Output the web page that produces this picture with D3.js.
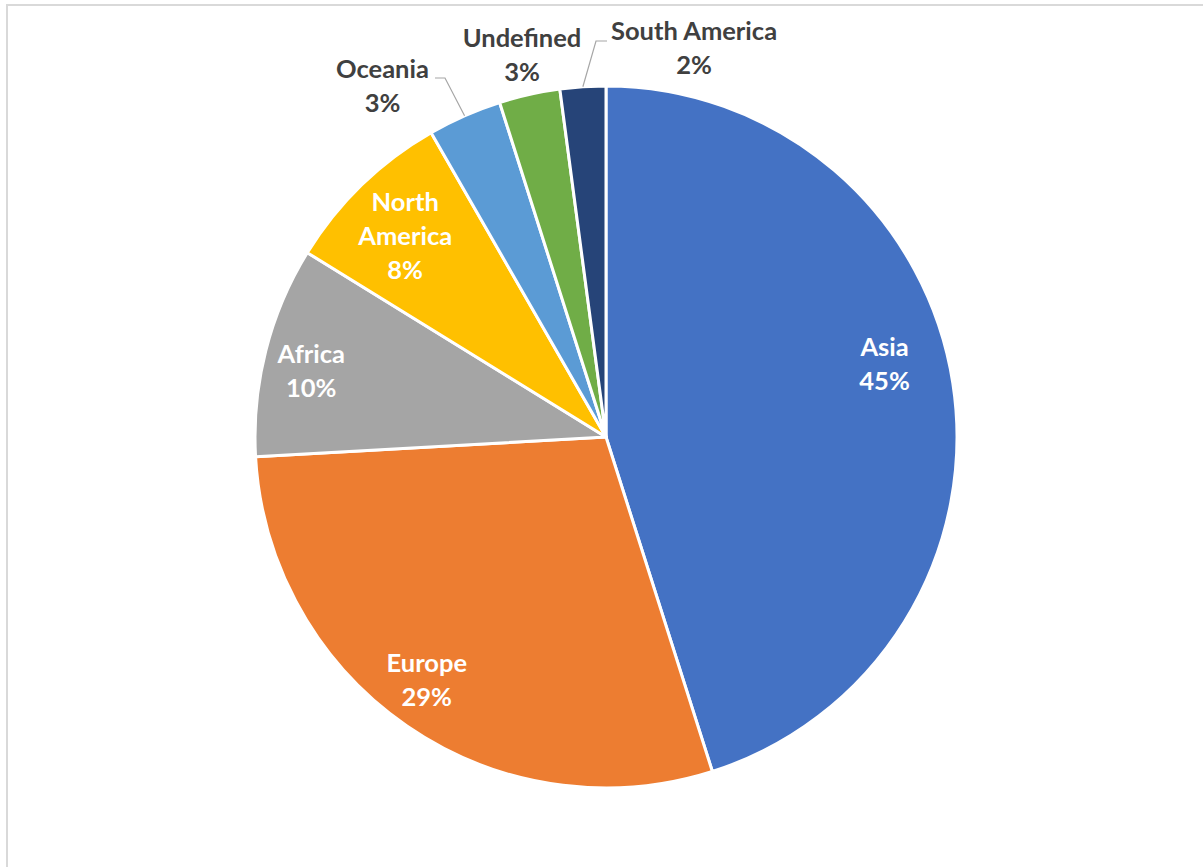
<!DOCTYPE html>
<html><head><meta charset="utf-8">
<script src="https://cdn.jsdelivr.net/npm/d3@7"></script>
<style>html,body{margin:0;padding:0;background:#fff;}svg{display:block;}</style>
</head><body>
<svg id="chart" width="1203" height="867"></svg>
<script>
const categories = ["Asia","Europe","Africa","North America","Oceania","Undefined","South America"];
const values = [45.1, 29.0, 9.7, 7.9, 3.4, 2.8, 2.1];
const colors = ["#4472C4","#ED7D31","#A5A5A5","#FFC000","#5B9BD5","#70AD47","#264478"];

// label layout (polar: degrees clockwise from top, radius in px), line breaks, inside/outside
const labelLayout = {
  "Asia": {a:75.3, r:288, inside:true, lines:["Asia"]},
  "Europe": {a:216.4, r:302, inside:true, lines:["Europe"]},
  "Africa": {a:282.6, r:302, inside:true, lines:["Africa"]},
  "North America": {a:315, r:284, inside:true, lines:["North","America"]},
  "Oceania": {a:327.5, r:416, inside:false, lines:["Oceania"], leader:[[445,78],[435,78]]},
  "Undefined": {a:347.6, r:391, inside:false, lines:["Undefined"]},
  "South America": {a:12.75, r:399, inside:false, lines:["South America"], leader:[[596,41],[607,41]]}
};

const W = 1203, H = 867, cx = 606, cy = 437, R = 351;
const svg = d3.select("#chart");
svg.append("rect").attr("x",7).attr("y",5).attr("width",W+20).attr("height",H+20)
  .attr("fill","none").attr("stroke","#d9d9d9").attr("stroke-width",2);

const data = categories.map((c,i)=>({cat:c, value:values[i], color:colors[i]}));
const pie = d3.pie().value(d=>d.value).sort(null);
const arcs = pie(data);
const arc = d3.arc().innerRadius(0).outerRadius(R);
const g = svg.append("g").attr("transform",`translate(${cx},${cy})`);
g.selectAll("path.slice").data(arcs).join("path").attr("class","slice")
  .attr("d",arc).attr("fill",d=>d.data.color).attr("stroke","#fff").attr("stroke-width",3).attr("stroke-linejoin","round");

const fmt = d3.format(".0f");
const fs = 25.5, lh = 34;
arcs.forEach(d=>{
  const L = labelLayout[d.data.cat];
  const ang = L.a*Math.PI/180;
  const x = cx + L.r*Math.sin(ang), y = cy - L.r*Math.cos(ang);
  const lines = L.lines.concat([fmt(d.data.value)+"%"]);
  const n = lines.length;
  const t = svg.append("text").attr("text-anchor","middle")
    .attr("font-family","Lato, 'Open Sans', sans-serif").attr("font-weight","bold")
    .attr("font-size",fs).attr("fill",L.inside?"#ffffff":"#404040");
  lines.forEach((s,i)=>{
    t.append("tspan").attr("x",x).attr("y", y + (i-(n-1)/2)*lh).attr("dy","0.35em").text(s);
  });
  if (L.leader){
    const mid = (d.startAngle+d.endAngle)/2;
    const p0 = [cx + R*Math.sin(mid), cy - R*Math.cos(mid)];
    svg.append("polyline").attr("points",[p0].concat(L.leader).map(p=>p.join(",")).join(" "))
      .attr("fill","none").attr("stroke","#a6a6a6").attr("stroke-width",1.2);
  }
});
</script>
</body></html>
